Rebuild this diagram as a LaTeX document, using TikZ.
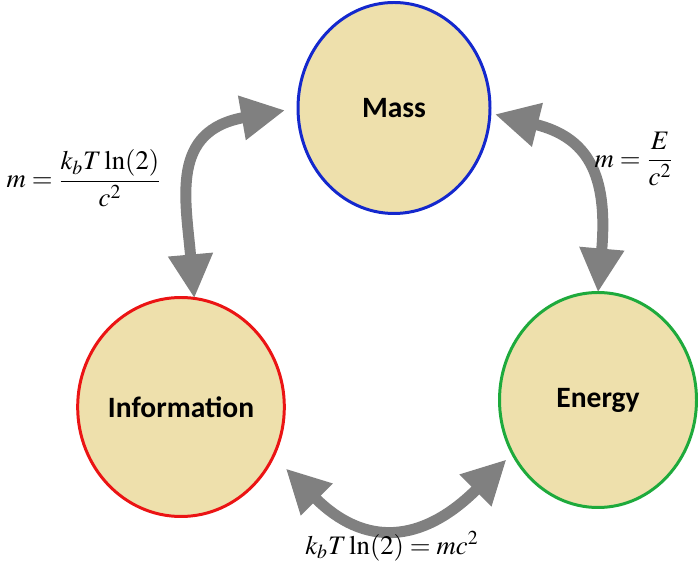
\documentclass[tikz,border=0pt]{standalone}
\usepackage{amsmath}
\usepackage{mathptmx}
\usepackage{fontspec}
\usetikzlibrary{arrows.meta,shapes.geometric}
\newfontfamily\calfont{Carlito}
\definecolor{FillClr}{RGB}{238,224,172}
\definecolor{MassClr}{RGB}{20,40,205}
\definecolor{InfoClr}{RGB}{235,20,20}
\definecolor{EnergyClr}{RGB}{30,170,60}
\definecolor{ArrowClr}{RGB}{128,128,128}

\begin{document}
\begin{tikzpicture}[
  bubble/.style={ellipse,fill=FillClr,line width=1.7pt,inner sep=0pt,outer sep=0pt,
    font=\calfont\bfseries\fontsize{16.8}{19}\selectfont},
  link/.style={ArrowClr,line width=0.22cm,
    {Triangle[length=0.88cm,width=0.84cm]}-{Triangle[length=0.88cm,width=0.84cm]}},
  eq/.style={font=\fontsize{15.2}{18}\selectfont}
]
\useasboundingbox (0,0) rectangle (14,11.26);

\node[bubble,draw=MassClr,minimum width=3.84cm,minimum height=4.22cm] (mass) at (7.88,9.10) {Mass};
\node[bubble,draw=InfoClr,minimum width=3.94cm,minimum height=4.38cm] (info) at (3.62,3.12) {Information};
\node[bubble,draw=EnergyClr,minimum width=3.94cm,minimum height=4.30cm] (energy) at (11.96,3.26) {Energy};

\draw[link,shorten >=0.26cm] (info.83) .. controls +(95:2) and +(190:2.6) .. (mass.180);
\draw[link,shorten <=0.1cm] (mass.-3) .. controls +(-14:2) and +(85:2.4) .. (energy.90);
\draw[link,shorten <=0.35cm,shorten >=0.17cm] (info.-28) .. controls +(-45:2.57) and +(225:2.57) .. (energy.212);

\node[eq] (eqInfoMass) at (1.68,7.70) {$m=\dfrac{k_bT\ln(2)}{c^2}$};
\node[eq] (eqMassEnergy) at (12.68,8.08) {$m=\dfrac{E}{c^2}$};
\node[eq] (eqInfoEnergy) at (7.84,0.34) {$k_bT\ln(2) = mc^2$};

\end{tikzpicture}
\end{document}
